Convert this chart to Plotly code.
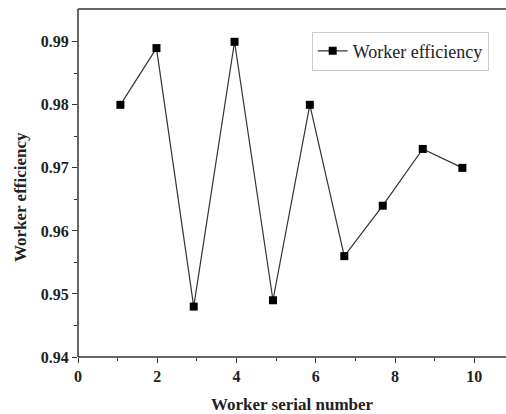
import plotly.graph_objects as go

serial = [1.07, 1.98, 2.92, 3.95, 4.92, 5.85, 6.72, 7.69, 8.70, 9.70]
efficiency = [0.980, 0.989, 0.948, 0.990, 0.949, 0.980, 0.956, 0.964, 0.973, 0.970]
series_name = "Worker efficiency"
x_title = "Worker serial number"
y_title = "Worker efficiency"

serif = "Liberation Serif, Times New Roman, serif"

fig = go.Figure()
fig.add_trace(go.Scatter(
    x=serial, y=efficiency, mode="lines+markers", name=series_name,
    line=dict(color="#333333", width=1.2),
    marker=dict(symbol="square", size=8, color="black"),
    cliponaxis=False,
))

fig.update_layout(
    template="none",
    width=506, height=414,
    margin=dict(l=78, r=0, t=9, b=57, pad=0),
    plot_bgcolor="rgba(0,0,0,0)", paper_bgcolor="white",
    showlegend=True,
    legend=dict(
        x=0.546, y=0.935, xanchor="left", yanchor="top",
        bgcolor="white", bordercolor="#cccccc", borderwidth=1,
        font=dict(family=serif, size=18, color="#222222"),
        itemwidth=30,
    ),
    font=dict(family=serif),
)

fig.update_xaxes(
    range=[0, 10.8], showgrid=False, zeroline=False,
    showline=False,
    tickmode="array", tickvals=[0, 2, 4, 6, 8, 10],
    ticks="outside", ticklen=5, tickwidth=1.2, tickcolor="#333333",
    tickfont=dict(family=serif, size=16, color="#222222", weight="bold"),
    minor=dict(tickvals=[1, 3, 5, 7, 9], ticks="outside", ticklen=3, tickcolor="#333333", tickwidth=1),
)
fig.update_yaxes(
    range=[0.94, 0.9952], showgrid=False, zeroline=False,
    showline=False,
    tickmode="array", tickvals=[0.94, 0.95, 0.96, 0.97, 0.98, 0.99],
    ticktext=["0.94", "0.95", "0.96", "0.97", "0.98", "0.99"],
    ticks="outside", ticklen=5, tickwidth=1.2, tickcolor="#333333",
    tickfont=dict(family=serif, size=16, color="#222222", weight="bold"),
    minor=dict(tickvals=[0.945, 0.955, 0.965, 0.975, 0.985], ticks="outside", ticklen=3, tickcolor="#333333", tickwidth=1),
)

axis_line = dict(color="#333333", width=1.5)
fig.add_shape(type="line", xref="paper", yref="paper", x0=0, x1=1.01, y0=1, y1=1, line=axis_line)
fig.add_shape(type="line", xref="paper", yref="paper", x0=0, x1=1.01, y0=0, y1=0, line=axis_line)
fig.add_shape(type="line", xref="paper", yref="paper", x0=0, x1=0, y0=0, y1=1, line=axis_line)

fig.add_annotation(
    text=x_title, xref="paper", yref="paper", x=0.50, y=-0.136,
    xanchor="center", yanchor="middle", showarrow=False,
    font=dict(family=serif, size=17, color="#222222", weight="bold"),
)
fig.add_annotation(
    text=y_title, xref="paper", yref="paper", x=-0.133, y=0.46,
    xanchor="center", yanchor="middle", showarrow=False, textangle=-90,
    font=dict(family=serif, size=17, color="#222222", weight="bold"),
)

fig.write_html("out.html")
